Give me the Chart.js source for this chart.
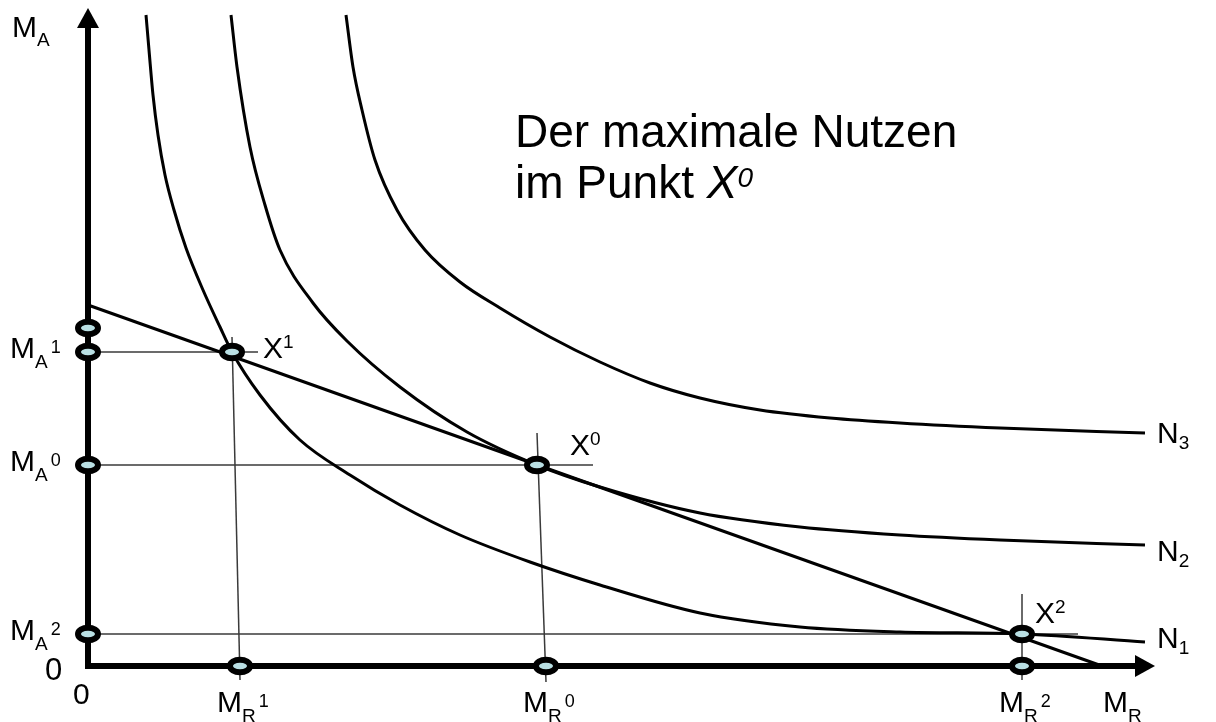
<!DOCTYPE html>
<html>
<head>
<meta charset="utf-8">
<script src="https://cdn.jsdelivr.net/npm/chart.js@4.4.0/dist/chart.umd.min.js"></script>
<style>
  html, body { margin: 0; padding: 0; background: #fff; }
</style>
</head>
<body>
<canvas id="chart" width="1216" height="722"></canvas>
<script>
// x = M_R, y = M_A (units)
const curveN1 = [[5.8,65.1],[6.1,61.6],[6.5,57.1],[7.0,53.1],[7.7,49.1],[8.6,45.6],[9.8,41.8],[11.5,37.6],[13.2,33.9],[14.4,31.4],[17.2,27.1],[21.2,22.6],[26.2,19.1],[31.2,16.1],[37.2,13.1],[44.2,10.4],[51.2,8.1],[61.2,5.3],[71.2,3.9],[81.2,3.4],[93.4,3.2],[105.7,2.4]];
const curveN2 = [[14.3,65.1],[14.9,59.9],[16.2,51.9],[17.7,46.1],[19.2,41.6],[22.5,36.3],[25.9,32.5],[31.2,27.9],[37.9,23.4],[44.9,20.1],[51.2,17.9],[61.2,15.3],[71.2,13.9],[81.2,13.1],[91.2,12.6],[105.7,12.1]];
const curveN3 = [[25.8,65.1],[26.5,59.9],[27.4,55.6],[28.7,50.6],[30.9,45.6],[33.7,41.6],[37.2,38.4],[41.2,35.8],[46.2,32.9],[51.2,30.4],[56.2,28.3],[61.2,26.8],[67.2,25.6],[74.2,24.8],[81.2,24.3],[91.2,23.8],[105.7,23.3]];
const curveNames = ['N1', 'N2', 'N3'];

const budgetLine = [[0,36.1],[101.4,0]];

// optimum points X1, X0, X2
const pointNames = ['1', '0', '2'];
const pointX = [14.4, 44.9, 93.4];
const pointY = [31.4, 20.1, 3.2];

// marks on the axes
const markX = [15.2, 45.8, 93.4];
const markY = [33.8, 31.4, 20.1, 3.2];
const markYNames = ['', '1', '0', '2'];

// thin guide lines
const guides = [
  [[0,31.4],[17.0,31.4]],
  [[14.4,32.9],[15.2,-1.4]],
  [[0,20.1],[50.5,20.1]],
  [[44.9,23.3],[45.8,-1.6]],
  [[0,3.2],[99.0,3.2]],
  [[93.4,7.2],[93.4,-1.4]]
];

const axisTipX = 106.7;
const axisTipY = 65.8;

const FONT = '"Liberation Sans", Arial, sans-serif';
const pts = a => a.map(p => ({ x: p[0], y: p[1] }));

// ring marker
const ring = document.createElement('canvas');
ring.width = 30; ring.height = 22;
(function () {
  const c = ring.getContext('2d');
  c.beginPath();
  c.ellipse(15, 11, 10, 6.3, 0, 0, Math.PI * 2);
  c.fillStyle = '#b9dfe3';
  c.fill();
  c.lineWidth = 6;
  c.strokeStyle = '#000';
  c.stroke();
})();

// arrow head, tip at the centre of the image
const arrow = document.createElement('canvas');
arrow.width = 24; arrow.height = 42;
(function () {
  const c = arrow.getContext('2d');
  c.beginPath();
  c.moveTo(12, 21);
  c.lineTo(23, 41);
  c.lineTo(1, 41);
  c.closePath();
  c.fillStyle = '#000';
  c.fill();
})();

function rich(ctx, x, y, parts) {
  parts.forEach(p => {
    ctx.font = (p.italic ? 'italic ' : '') + p.size + 'px ' + FONT;
    ctx.fillText(p.t, x + (p.dx || 0), y + (p.dy || 0));
    x += ctx.measureText(p.t).width + (p.dx || 0);
  });
}

const labelPlugin = {
  id: 'labels',
  afterDatasetsDraw(chart) {
    const ctx = chart.ctx;
    const sx = chart.scales.x, sy = chart.scales.y;
    const x0 = sx.getPixelForValue(0), y0 = sy.getPixelForValue(0);
    ctx.save();
    ctx.fillStyle = '#000';
    ctx.textBaseline = 'alphabetic';

    // axis names
    rich(ctx, x0 - 76, sy.getPixelForValue(axisTipY) + 29, [
      { t: 'M', size: 30 }, { t: 'A', size: 19, dy: 9 }
    ]);
    rich(ctx, sx.getPixelForValue(axisTipX) - 52, y0 + 46, [
      { t: 'M', size: 30 }, { t: 'R', size: 19, dy: 10 }
    ]);
    rich(ctx, x0 - 43, y0 + 14, [{ t: '0', size: 31 }]);
    rich(ctx, x0 - 15, y0 + 38, [{ t: '0', size: 30 }]);

    // M_A marks
    markY.forEach((v, i) => {
      if (!markYNames[i]) return;
      rich(ctx, x0 - 78, sy.getPixelForValue(v) + 6, [
        { t: 'M', size: 30 }, { t: 'A', size: 19, dy: 10 }, { t: markYNames[i], size: 18, dy: -5, dx: 3 }
      ]);
    });
    // M_R marks
    markX.forEach((v, i) => {
      rich(ctx, sx.getPixelForValue(v) - 23, y0 + 46, [
        { t: 'M', size: 30 }, { t: 'R', size: 19, dy: 10 }, { t: pointNames[i], size: 18, dy: -5, dx: 3 }
      ]);
    });
    // X points
    const off = [[31, 6], [33, -10], [13, -11]];
    pointX.forEach((v, i) => {
      rich(ctx, sx.getPixelForValue(v) + off[i][0], sy.getPixelForValue(pointY[i]) + off[i][1], [
        { t: 'X', size: 30 }, { t: pointNames[i], size: 19, dy: -10 }
      ]);
    });
    // curve names
    const nDy = [6, 16, 10];
    [curveN1, curveN2, curveN3].forEach((c, i) => {
      const last = c[c.length - 1];
      rich(ctx, sx.getPixelForValue(last[0]) + 12, sy.getPixelForValue(last[1]) + nDy[i], [
        { t: 'N', size: 30 }, { t: curveNames[i].slice(1), size: 19, dy: 6 }
      ]);
    });

    // title
    rich(ctx, 515, 147, [{ t: 'Der maximale Nutzen', size: 46 }]);
    rich(ctx, 515, 198, [
      { t: 'im Punkt ', size: 46 }, { t: 'X', size: 46, italic: true }, { t: '0', size: 28, italic: true, dy: -11 }
    ]);
    ctx.restore();
  }
};

const lineDs = (data, width, color, order, extra) => Object.assign({
  data: pts(data), borderColor: color, borderWidth: width, pointRadius: 0,
  fill: false, order: order
}, extra || {});

const datasets = [];
datasets.push({
  data: pointX.map((v, i) => ({ x: v, y: pointY[i] }))
    .concat(markX.map(v => ({ x: v, y: 0 })))
    .concat(markY.map(v => ({ x: 0, y: v }))),
  showLine: false, pointStyle: ring, pointRadius: 5, order: 0
});
datasets.push({ data: [{ x: 0, y: axisTipY }], showLine: false, pointStyle: arrow, pointRadius: 5, pointRotation: 0, order: 0 });
datasets.push({ data: [{ x: axisTipX, y: 0 }], showLine: false, pointStyle: arrow, pointRadius: 5, pointRotation: 90, order: 0 });
datasets.push(lineDs([[0, axisTipY - 1.8], [0, 0], [axisTipX - 1.8, 0]], 6, '#000', 1, { borderJoinStyle: 'miter' }));
[curveN1, curveN2, curveN3].forEach(c => datasets.push(lineDs(c, 3, '#000', 2, { cubicInterpolationMode: 'monotone' })));
datasets.push(lineDs(budgetLine, 3, '#000', 2));
guides.forEach(g => datasets.push(lineDs(g, 1.5, '#3a3a3a', 3)));

new Chart(document.getElementById('chart'), {
  type: 'line',
  data: { datasets },
  options: {
    responsive: false,
    animation: false,
    events: [],
    layout: { padding: 0, autoPadding: false },
    plugins: { legend: { display: false }, tooltip: { enabled: false } },
    scales: {
      x: { type: 'linear', min: -8.8, max: 112.8, display: false },
      y: { type: 'linear', min: -5.6, max: 66.6, display: false }
    }
  },
  plugins: [labelPlugin]
});
</script>
</body>
</html>
